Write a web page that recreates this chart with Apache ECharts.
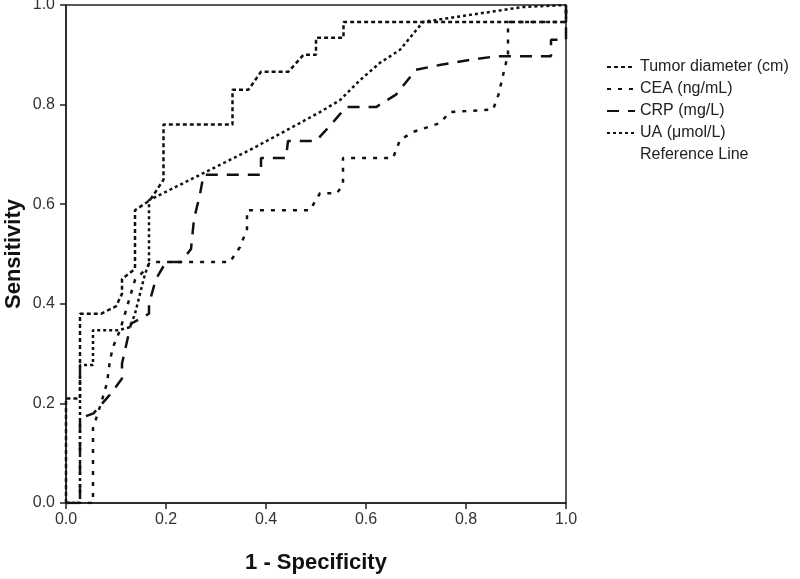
<!DOCTYPE html>
<html>
<head>
<meta charset="utf-8">
<script src="https://cdn.jsdelivr.net/npm/echarts@6/dist/echarts.min.js"></script>
<style>
  html, body {margin: 0; padding: 0; background: #fff;}
  #chart {width: 800px; height: 579px;}
</style>
</head>
<body>
<div id="chart"></div>
<script>
// ROC curves, [1 - specificity, sensitivity]
const tumorDiameter = [[0,0],[0,0.21],[0.028,0.21],[0.028,0.38],[0.07,0.38],[0.10,0.395],[0.112,0.42],[0.112,0.45],[0.138,0.47],[0.138,0.588],[0.168,0.608],[0.195,0.649],[0.195,0.76],[0.333,0.76],[0.333,0.83],[0.365,0.83],[0.39,0.866],[0.445,0.866],[0.475,0.90],[0.50,0.90],[0.50,0.934],[0.555,0.934],[0.555,0.966],[1,0.966],[1,1]];
const cea = [[0,0],[0.054,0],[0.054,0.15],[0.07,0.2],[0.082,0.241],[0.088,0.287],[0.094,0.313],[0.108,0.347],[0.118,0.38],[0.128,0.414],[0.138,0.448],[0.16,0.47],[0.168,0.484],[0.328,0.484],[0.348,0.514],[0.362,0.55],[0.362,0.588],[0.488,0.588],[0.508,0.622],[0.542,0.622],[0.554,0.64],[0.554,0.693],[0.654,0.693],[0.668,0.729],[0.694,0.745],[0.748,0.763],[0.768,0.785],[0.854,0.79],[0.865,0.82],[0.878,0.876],[0.884,0.90],[0.884,0.966],[1,0.966],[1,1]];
const crp = [[0,0],[0.028,0],[0.028,0.17],[0.055,0.18],[0.09,0.22],[0.112,0.25],[0.112,0.28],[0.13,0.36],[0.166,0.38],[0.166,0.40],[0.18,0.45],[0.2,0.484],[0.23,0.484],[0.25,0.51],[0.256,0.57],[0.268,0.62],[0.275,0.659],[0.39,0.659],[0.39,0.693],[0.44,0.693],[0.444,0.727],[0.5,0.727],[0.53,0.76],[0.56,0.795],[0.62,0.795],[0.66,0.82],[0.7,0.87],[0.75,0.88],[0.81,0.89],[0.86,0.897],[0.97,0.897],[0.97,0.93],[1,0.93],[1,1]];
const ua = [[0,0],[0.028,0],[0.028,0.277],[0.054,0.277],[0.054,0.347],[0.104,0.347],[0.128,0.353],[0.138,0.38],[0.148,0.42],[0.158,0.46],[0.166,0.48],[0.166,0.608],[0.368,0.709],[0.442,0.749],[0.508,0.785],[0.548,0.809],[0.588,0.849],[0.628,0.884],[0.668,0.91],[0.714,0.966],[0.914,0.996],[0.914,1],[1,1]];
const referenceLine = [[0,0],[1,1]];

const seriesNames = ['Tumor diameter (cm)', 'CEA (ng/mL)', 'CRP (mg/L)', 'UA (μmol/L)', 'Reference Line'];

const myChart = echarts.init(document.getElementById('chart'));

const curve = (name, data, dash, width) => ({
    name: name,
    type: 'line',
    data: data,
    showSymbol: false,
    symbol: 'none',
    itemStyle: {color: '#111'},
    lineStyle: {color: '#111', width: width, type: dash}
});

myChart.setOption({
    animation: false,
    grid: {
        left: 66, top: 5, width: 500, height: 498,
        outerBoundsMode: 'none', containLabel: false,
        show: true, borderColor: '#222', borderWidth: 1.5
    },
    legend: {
        orient: 'vertical',
        left: 601,
        top: 54,
        itemGap: 6,
        itemWidth: 28,
        itemHeight: 14,
        itemStyle: {opacity: 0},
        textStyle: {fontFamily: 'Liberation Sans', fontSize: 16, color: '#222'},
        data: [
            seriesNames[0], seriesNames[1], seriesNames[2], seriesNames[3],
            {name: seriesNames[4], lineStyle: {opacity: 0}}
        ]
    },
    xAxis: {
        type: 'value',
        min: 0, max: 1, interval: 0.2,
        name: '1 - Specificity',
        nameLocation: 'middle',
        nameGap: 49,
        nameMoveOverlap: false,
        nameTextStyle: {fontFamily: 'Liberation Sans', fontSize: 22, fontWeight: 'bold', color: '#111'},
        axisLine: {lineStyle: {color: '#222', width: 1.5}},
        axisTick: {show: true, length: 6, lineStyle: {color: '#222', width: 1.5}},
        axisLabel: {fontFamily: 'Liberation Sans', fontSize: 16, color: '#333', margin: 9, formatter: v => v.toFixed(1)},
        splitLine: {show: false}
    },
    yAxis: {
        type: 'value',
        min: 0, max: 1, interval: 0.2,
        name: 'Sensitivity',
        nameLocation: 'middle',
        nameGap: 41,
        nameMoveOverlap: false,
        nameTextStyle: {fontFamily: 'Liberation Sans', fontSize: 22, fontWeight: 'bold', color: '#111'},
        axisLine: {show: true, lineStyle: {color: '#222', width: 1.5}},
        axisTick: {show: true, length: 6, lineStyle: {color: '#222', width: 1.5}},
        axisLabel: {fontFamily: 'Liberation Sans', fontSize: 16, color: '#333', margin: 11, formatter: v => v.toFixed(1)},
        splitLine: {show: false}
    },
    series: [
        curve(seriesNames[0], tumorDiameter, [4, 3], 2.5),
        curve(seriesNames[1], cea, [4, 7], 2.5),
        curve(seriesNames[2], crp, [12, 9], 2.5),
        curve(seriesNames[3], ua, [3, 3], 2.5),
        {
            name: seriesNames[4],
            type: 'line',
            data: referenceLine,
            showSymbol: false,
            symbol: 'none',
            itemStyle: {color: '#111'},
            lineStyle: {opacity: 0}
        }
    ]
});
</script>
</body>
</html>
